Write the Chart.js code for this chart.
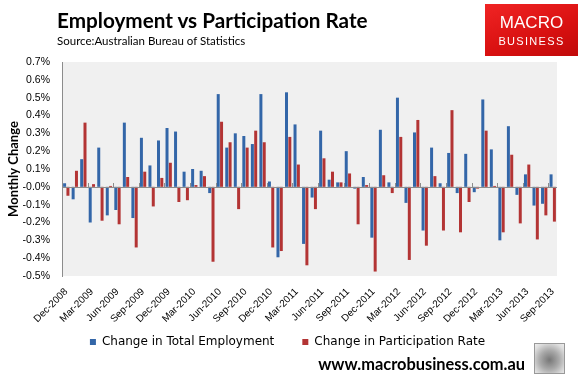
<!DOCTYPE html>
<html><head><meta charset="utf-8">
<script src="https://cdn.jsdelivr.net/npm/chart.js@4/dist/chart.umd.min.js"></script>
<style>
html,body{margin:0;padding:0;background:#fff;}
#wrap{position:relative;width:582px;height:382px;overflow:hidden;}
#c{position:absolute;left:0;top:0;}
.t{position:absolute;white-space:nowrap;}
#title{left:57px;top:7px;font:bold 20.7px Lato,sans-serif;color:#000;line-height:26px;}
#src{left:57px;top:34px;font:11.5px Lato,sans-serif;color:#000;line-height:14px;}
#logo{position:absolute;left:485px;top:4px;width:93px;height:52px;background:linear-gradient(160deg,#f02424,#d81010 60%,#c00a0a);color:#fff;text-align:center;}
#logo .m{position:absolute;left:0;width:93px;top:10px;font:17px "Liberation Sans",Arial,sans-serif;line-height:18px;}
#logo .b{position:absolute;left:0;width:93px;top:31px;font:11px "Liberation Sans",Arial,sans-serif;letter-spacing:1.3px;line-height:13px;}
#url{right:57px;top:355px;font:bold 16.4px Lato,sans-serif;color:#000;line-height:18px;}
#wolf{position:absolute;left:534px;top:343px;width:29px;height:29px;border:1px solid #999;background:radial-gradient(circle at 50% 55%,#777 0,#aaa 45%,#ddd 80%,#eee 100%);}
</style></head>
<body><div id="wrap">
<canvas id="c" width="582" height="382"></canvas>
<div class="t" id="title">Employment vs Participation Rate</div>
<div class="t" id="src">Source:Australian Bureau of Statistics</div>
<div id="logo"><div class="m">MACRO</div><div class="b">BUSINESS</div></div>
<div class="t" id="url">www.macrobusiness.com.au</div>
<div id="wolf"></div>
</div>
<script>
const months = ['Dec-2008',
 'Jan-2009','Feb-2009','Mar-2009','Apr-2009','May-2009','Jun-2009','Jul-2009','Aug-2009','Sep-2009','Oct-2009','Nov-2009','Dec-2009',
 'Jan-2010','Feb-2010','Mar-2010','Apr-2010','May-2010','Jun-2010','Jul-2010','Aug-2010','Sep-2010','Oct-2010','Nov-2010','Dec-2010',
 'Jan-2011','Feb-2011','Mar-2011','Apr-2011','May-2011','Jun-2011','Jul-2011','Aug-2011','Sep-2011','Oct-2011','Nov-2011','Dec-2011',
 'Jan-2012','Feb-2012','Mar-2012','Apr-2012','May-2012','Jun-2012','Jul-2012','Aug-2012','Sep-2012','Oct-2012','Nov-2012','Dec-2012',
 'Jan-2013','Feb-2013','Mar-2013','Apr-2013','May-2013','Jun-2013','Jul-2013','Aug-2013','Sep-2013'];
const employment = [0.02,-0.07,0.155,-0.20,0.22,-0.16,-0.13,0.36,-0.175,0.275,0.12,0.26,0.33,0.31,0.085,0.10,
 0.09,-0.035,0.52,0.22,0.30,0.285,0.24,0.52,0.03,-0.395,0.53,0.35,-0.32,-0.06,0.315,0.04,0.025,0.20,-0.01,0.055,-0.285,0.32,
 0.025,0.50,-0.09,0.305,-0.245,0.22,0.02,0.19,-0.035,0.185,-0.03,0.49,0.21,-0.30,0.34,-0.045,0.07,-0.105,-0.095,0.07];
const participation = [-0.05,0.09,0.36,0.015,-0.19,0.005,-0.21,0.055,-0.34,0.085,-0.11,0.05,0.135,-0.085,-0.075,0.01,
 0.06,-0.42,0.365,0.25,-0.125,0.22,0.315,0.25,-0.34,-0.36,0.28,0.125,-0.44,-0.125,0.16,0.085,0.025,0.075,-0.21,0.01,-0.475,0.065,
 -0.035,0.28,-0.41,0.375,-0.33,0.06,-0.245,0.43,-0.255,-0.085,-0.01,0.315,0.005,-0.255,0.18,-0.205,0.125,-0.295,-0.16,-0.195];
const seriesNames = ['Change in Total Employment','Change in Participation Rate'];
const yMin = -0.5, yMax = 0.7, yStep = 0.1;

const bgPlugin = {
  id:'bg',
  afterLayout(chart){
    const lg = chart.legend;
    if (lg) { lg.top -= 24; lg.bottom -= 24; lg.left += 9; lg.right += 9; }
  },
  beforeDraw(chart){
    const a = chart.chartArea, ctx = chart.ctx;
    ctx.save(); ctx.fillStyle = '#f0f0f0';
    ctx.fillRect(a.left, a.top, a.right-a.left, a.bottom-a.top);
    ctx.restore();
  },
  afterDatasetsDraw(chart){
    const x = chart.scales.x, y = chart.scales.y, ctx = chart.ctx;
    const y0 = y.getPixelForValue(0);
    const w = (x.right - x.left) / months.length;
    ctx.save(); ctx.strokeStyle = '#8c8c8c'; ctx.lineWidth = 1;
    ctx.beginPath();
    ctx.moveTo(x.left, Math.round(y0)+0.5); ctx.lineTo(x.right, Math.round(y0)+0.5);
    for (let k = 0; k <= months.length; k += 3) {
      const px = Math.round(x.left + k*w) + 0.5;
      ctx.moveTo(px, Math.round(y0)); ctx.lineTo(px, Math.round(y0) - 4);
    }
    ctx.stroke(); ctx.restore();
  }
};

new Chart(document.getElementById('c'), {
  type:'bar',
  data:{
    labels: months,
    datasets:[
      {label: seriesNames[0], data: employment, backgroundColor:'#3366a8', borderWidth:0},
      {label: seriesNames[1], data: participation, backgroundColor:'#b33434', borderWidth:0}
    ]
  },
  options:{
    responsive:false, animation:false,
    devicePixelRatio:1,
    layout:{padding:{left:0, right:25, top:62, bottom:0}},
    datasets:{bar:{categoryPercentage:0.78, barPercentage:0.9}},
    plugins:{
      legend:{position:'bottom', align:'center',
        labels:{boxWidth:6, boxHeight:6, padding:28, color:'#000', font:{family:'DejaVu Sans', size:12}}},
      tooltip:{enabled:false}
    },
    scales:{
      x:{
        grid:{display:false, drawTicks:false}, border:{display:false},
        ticks:{autoSkip:false, minRotation:45, maxRotation:45, padding:10, color:'#000',
          font:{family:'Liberation Sans', size:10},
          callback:(v,i)=> i%3===0 ? months[i] : null},
        afterFit:s=>{ s.height = 56; }
      },
      y:{
        min:yMin, max:yMax,
        ticks:{stepSize:yStep, padding:12, color:'#000', font:{family:'Liberation Sans', size:10.5},
          callback:v=> v.toFixed(1)+'%'},
        grid:{drawTicks:false, color:'transparent'},
        border:{display:true, color:'#8c8c8c'},
        title:{display:true, text:'Monthly Change', color:'#000', font:{family:'Lato', size:13, weight:'bold'}, padding:{top:6, bottom:0}},
        afterFit:s=>{ s.width = 62; }
      }
    }
  },
  plugins:[bgPlugin]
});
</script>
</body></html>
